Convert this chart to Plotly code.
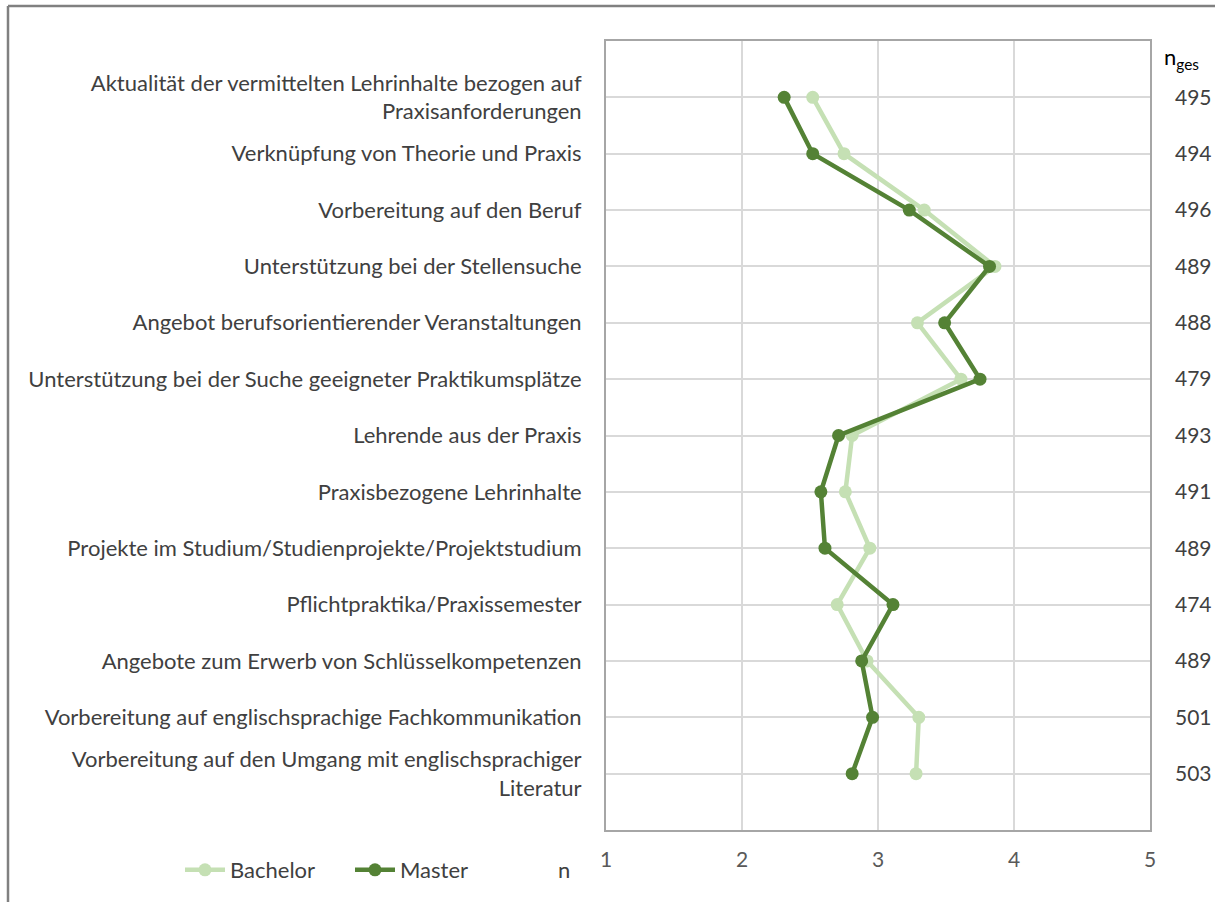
import plotly.graph_objects as go

categories = [
    "Aktualität der vermittelten Lehrinhalte bezogen auf<br>Praxisanforderungen",
    "Verknüpfung von Theorie und Praxis",
    "Vorbereitung auf den Beruf",
    "Unterstützung bei der Stellensuche",
    "Angebot berufsorientierender Veranstaltungen",
    "Unterstützung bei der Suche geeigneter Praktikumsplätze",
    "Lehrende aus der Praxis",
    "Praxisbezogene Lehrinhalte",
    "Projekte im Studium/Studienprojekte/Projektstudium",
    "Pflichtpraktika/Praxissemester",
    "Angebote zum Erwerb von Schlüsselkompetenzen",
    "Vorbereitung auf englischsprachige Fachkommunikation",
    "Vorbereitung auf den Umgang mit englischsprachiger<br>Literatur",
]
bachelor = [2.52, 2.75, 3.34, 3.86, 3.29, 3.61, 2.81, 2.76, 2.94, 2.70, 2.92, 3.30, 3.28]
master = [2.31, 2.52, 3.23, 3.82, 3.49, 3.75, 2.71, 2.58, 2.61, 3.11, 2.88, 2.96, 2.81]
n_ges = [495, 494, 496, 489, 488, 479, 493, 491, 489, 474, 489, 501, 503]
x_ticks = [1, 2, 3, 4, 5]

positions = list(range(1, len(categories) + 1))

FONT = "Lato"
TXT = "#404040"
W, H = 1215, 902
L, R, T, B = 606, 65, 41, 72
PW, PH = W - L - R, H - T - B

fig = go.Figure()
fig.add_trace(go.Scatter(
    x=bachelor, y=positions, name="Bachelor", mode="lines+markers",
    line=dict(color="#C5E0B4", width=4.5),
    marker=dict(color="#C5E0B4", size=13),
))
fig.add_trace(go.Scatter(
    x=master, y=positions, name="Master", mode="lines+markers",
    line=dict(color="#548235", width=4.5),
    marker=dict(color="#548235", size=13),
))
fig.add_trace(go.Scatter(
    x=[None], y=[None], yaxis="y2", showlegend=False, hoverinfo="skip"
))

fig.update_layout(
    width=W, height=H,
    paper_bgcolor="white", plot_bgcolor="white",
    margin=dict(l=L, r=R, t=T, b=B, autoexpand=False),
    font=dict(family=FONT, size=22, color=TXT),
    xaxis=dict(
        range=[1, 5], tickvals=x_ticks, ticktext=[str(v) for v in x_ticks],
        showgrid=True, gridcolor="#D9D9D9", gridwidth=2,
        zeroline=False, showline=True, linecolor="#A6A6A6", linewidth=2,
        mirror=True, ticks="", ticklabelstandoff=10,
        tickfont=dict(size=21, color="#595959"),
    ),
    yaxis=dict(
        range=[14, 0], tickvals=positions, ticktext=categories,
        showgrid=True, gridcolor="#D9D9D9", gridwidth=2,
        zeroline=False, showline=True, linecolor="#A6A6A6", linewidth=2,
        mirror=True, ticks="", ticklabelstandoff=18,
        tickfont=dict(size=22, color=TXT),
    ),
    yaxis2=dict(
        range=[14, 0], tickvals=positions, ticktext=[str(v) for v in n_ges],
        overlaying="y", side="right", showgrid=False, zeroline=False,
        showline=False, ticks="", ticklabelstandoff=24,
        tickfont=dict(size=21, color=TXT),
    ),
    legend=dict(
        orientation="h", x=180 / W, y=32 / H, xref="container", yref="container",
        xanchor="left", yanchor="middle",
        font=dict(size=22, color=TXT), itemwidth=40,
        entrywidth=115, entrywidthmode="pixels",
        bgcolor="rgba(0,0,0,0)",
    ),
    showlegend=True,
)

fig.add_annotation(
    text="n<sub>ges</sub>", xref="paper", yref="paper", x=1.0, y=1.0,
    xanchor="left", yanchor="middle", xshift=12, yshift=-17, showarrow=False,
    font=dict(size=22, color="#000000"),
)
fig.add_annotation(
    text="n", xref="paper", yref="paper", x=(556 - L) / PW, y=-(870 - (T + PH)) / PH,
    xanchor="left", yanchor="middle", showarrow=False,
    font=dict(size=22, color=TXT),
)
# outer chart frame
top_y = (H - 6 - B) / PH
left_x = (8 - L) / PW
fig.add_shape(type="line", xref="paper", yref="paper",
              x0=left_x, x1=(W - L) / PW, y0=top_y, y1=top_y,
              line=dict(color="#808080", width=2.5))
fig.add_shape(type="line", xref="paper", yref="paper",
              x0=left_x, x1=left_x, y0=top_y, y1=-B / PH,
              line=dict(color="#808080", width=2.5))

fig.write_html("out.html", post_script="document.body.style.margin='0';",
               config={"displayModeBar": False})
